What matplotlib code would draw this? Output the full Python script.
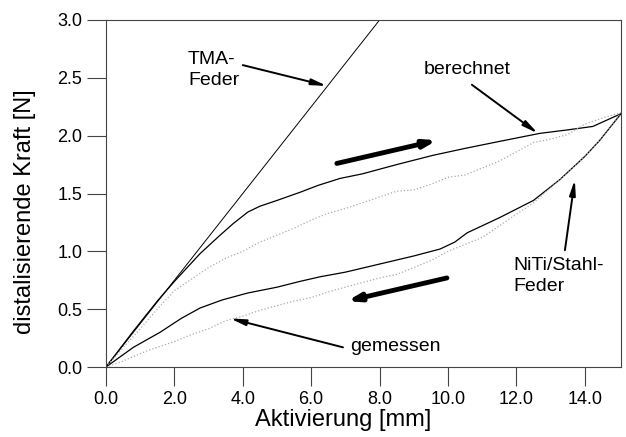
import matplotlib
matplotlib.use("Agg")
import matplotlib.pyplot as plt

plt.rcParams['font.family'] = ['Liberation Sans', 'DejaVu Sans']

# TMA spring (linear)
tma_x = [0.0, 8.0]
tma_y = [0.0, 3.0]

# calculated NiTi/steel spring, loading and unloading
calc_up_x = [0, 0.8, 1.5, 2.0, 2.75, 3.3, 3.72, 4.15, 4.5, 5.0, 5.67, 6.2, 6.84, 7.5, 8.5, 9.56, 10.5, 11.5, 12.69, 13.5, 14.24, 15.06]
calc_up_y = [0, 0.31, 0.57, 0.74, 0.98, 1.13, 1.24, 1.34, 1.39, 1.44, 1.51, 1.57, 1.63, 1.67, 1.75, 1.83, 1.89, 1.95, 2.02, 2.05, 2.08, 2.19]
calc_dn_x = [0, 0.8, 1.58, 2.2, 2.75, 3.4, 4.15, 5.0, 5.67, 6.26, 7.0, 8.0, 9.0, 9.77, 10.2, 10.56, 11.5, 12.5, 13.27, 14.0, 14.44, 15.06]
calc_dn_y = [0, 0.17, 0.3, 0.42, 0.51, 0.58, 0.64, 0.69, 0.74, 0.78, 0.82, 0.89, 0.96, 1.02, 1.08, 1.16, 1.29, 1.44, 1.62, 1.82, 1.96, 2.19]

# measured
meas_up_x = [0, 0.3, 0.6, 1.0, 1.5, 2.0, 2.5, 3.0, 3.5, 4.0, 4.5, 5.0, 5.5, 6.0, 6.5, 7.0, 7.5, 8.0, 8.5, 9.0, 9.5, 10.0, 10.5, 11.0, 11.5, 12.0, 12.5, 13.0, 13.5, 14.0, 14.5, 15.06]
meas_up_y = [0, 0.1, 0.2, 0.33, 0.5, 0.66, 0.76, 0.86, 0.94, 1.0, 1.08, 1.14, 1.2, 1.27, 1.33, 1.37, 1.42, 1.47, 1.52, 1.53, 1.58, 1.64, 1.66, 1.72, 1.78, 1.86, 1.94, 1.97, 2.01, 2.1, 2.15, 2.2]
meas_dn_x = [0, 0.4, 0.8, 1.2, 1.6, 2.0, 2.5, 3.0, 3.5, 4.0, 4.5, 5.0, 5.5, 6.0, 6.5, 7.0, 7.5, 8.0, 8.5, 9.0, 9.5, 10.0, 10.5, 11.0, 11.5, 12.0, 12.5, 13.0, 13.5, 14.0, 14.5, 15.06]
meas_dn_y = [0, 0.04, 0.09, 0.14, 0.18, 0.22, 0.28, 0.33, 0.4, 0.44, 0.49, 0.53, 0.57, 0.6, 0.65, 0.69, 0.73, 0.77, 0.8, 0.86, 0.92, 1.0, 1.06, 1.12, 1.22, 1.32, 1.42, 1.55, 1.68, 1.82, 1.98, 2.2]

xticks = [0, 2, 4, 6, 8, 10, 12, 14]
yticks = [0, 0.5, 1.0, 1.5, 2.0, 2.5, 3.0]

fig = plt.figure(figsize=(6.26, 4.37), dpi=100)
ax = fig.add_axes([106/626, 1-367/437, 515/626, 347/437])

ax.plot(tma_x, tma_y, color='k', lw=0.7)
ax.plot(calc_up_x, calc_up_y, color='k', lw=0.9)
ax.plot(calc_dn_x, calc_dn_y, color='k', lw=0.9)
ax.plot(meas_up_x, meas_up_y, color='#aaaaaa', lw=0.9, ls=':')
ax.plot(meas_dn_x, meas_dn_y, color='#aaaaaa', lw=0.9, ls=':')

ax.set_xlim(0, 15.06)
ax.set_ylim(0, 3.0)
ax.set_xticks(xticks)
ax.set_xticklabels(["%.1f" % v for v in xticks])
ax.set_yticks(yticks)
ax.set_yticklabels(["%.1f" % v for v in yticks])
ax.tick_params(direction='out', length=14, width=0.8, labelsize=13, pad=3, color='#444444')
for s in ax.spines.values():
    s.set_linewidth(0.8)
    s.set_color('#444444')

ax.set_xlabel("Aktivierung [mm]", fontsize=17)
ax.xaxis.set_label_coords(0.46, -0.12)
ax.set_ylabel("distalisierende Kraft [N]", fontsize=17)
ax.yaxis.set_label_coords(-0.135, 0.447)

thin = dict(arrowstyle='-|>,head_length=0.9,head_width=0.18', color='k', lw=1.4, shrinkA=0, shrinkB=0)
bold = dict(arrowstyle='-|>,head_length=0.7,head_width=0.22', color='k', lw=3.5, shrinkA=0, shrinkB=0)

ax.text(2.4, 2.57, "TMA-\nFeder", fontsize=14, ha='left', va='center', linespacing=1.3)
ax.annotate("", xy=(6.46, 2.43), xytext=(4.0, 2.61), arrowprops=thin)

ax.text(10.55, 2.57, "berechnet", fontsize=14, ha='center', va='center')
ax.annotate("", xy=(12.63, 2.02), xytext=(10.7, 2.44), arrowprops=thin)

ax.annotate("", xy=(9.68, 1.96), xytext=(6.75, 1.76), arrowprops=bold)
ax.annotate("", xy=(7.05, 0.57), xytext=(9.97, 0.77), arrowprops=bold)

ax.text(7.15, 0.18, "gemessen", fontsize=14, ha='left', va='center')
ax.annotate("", xy=(3.63, 0.42), xytext=(6.93, 0.17), arrowprops=thin)

ax.text(11.9, 0.79, "NiTi/Stahl-\nFeder", fontsize=14, ha='left', va='center', linespacing=1.3)
ax.annotate("", xy=(13.71, 1.62), xytext=(13.42, 1.01), arrowprops=thin)

fig.savefig("out.png", dpi=100)
